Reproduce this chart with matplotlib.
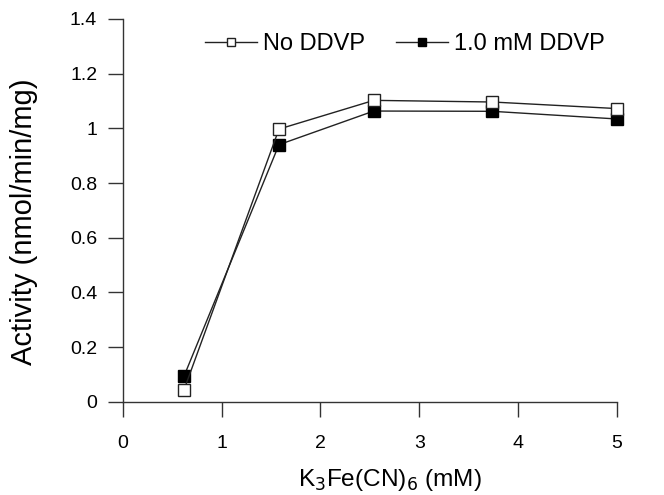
import matplotlib
matplotlib.use("Agg")
import matplotlib.pyplot as plt

plt.rcParams['font.family'] = ['Liberation Sans', 'DejaVu Sans']

conc = [0.62, 1.58, 2.54, 3.74, 5.0]
no_ddvp = [0.045, 0.997, 1.102, 1.096, 1.072]
ddvp = [0.095, 0.94, 1.063, 1.062, 1.034]
x_ticks = [0, 1, 2, 3, 4, 5]
y_ticks = [0, 0.2, 0.4, 0.6, 0.8, 1, 1.2, 1.4]
y_labels = ['0', '0.2', '0.4', '0.6', '0.8', '1', '1.2', '1.4']

fig = plt.figure(figsize=(6.64, 4.95), dpi=100)
ax = fig.add_axes([0.185, 0.188, 0.744, 0.774])

ax.plot(conc, no_ddvp, color='#222222', lw=1.0, marker='s', ms=9,
        mfc='white', mec='#222222', mew=1.0, label='No DDVP', clip_on=False, zorder=3)
ax.plot(conc, ddvp, color='#222222', lw=1.0, marker='s', ms=9,
        mfc='black', mec='black', mew=1.0, label='1.0 mM DDVP', clip_on=False, zorder=2)

ax.set_xlim(0, 5)
ax.set_ylim(0, 1.4)
ax.set_xticks(x_ticks)
ax.set_yticks(y_ticks)
ax.set_yticklabels(y_labels)
ax.spines['top'].set_visible(False)
ax.spines['right'].set_visible(False)
for s in ('left', 'bottom'):
    ax.spines[s].set_color('#333333')
    ax.spines[s].set_linewidth(1.0)
ax.tick_params(direction='out', length=10.5, width=1.0, color='#333333',
               labelsize=14)
ax.tick_params(axis='y', pad=8)
ax.tick_params(axis='x', pad=13)

ax.set_xlabel('K$_3$Fe(CN)$_6$ (mM)', fontsize=17.6)
ax.set_ylabel('Activity (nmol/min/mg)', fontsize=21)
ax.xaxis.set_label_coords(0.54, -0.17)
ax.yaxis.set_label_coords(-0.172, 0.471)

ax.legend(loc='upper left', bbox_to_anchor=(0.138, 1.0), ncol=2, frameon=False,
          fontsize=17, handlelength=2.2, handletextpad=0.25, columnspacing=1.3,
          borderaxespad=0.2, markerscale=0.7)

fig.savefig('out.png', dpi=100)
